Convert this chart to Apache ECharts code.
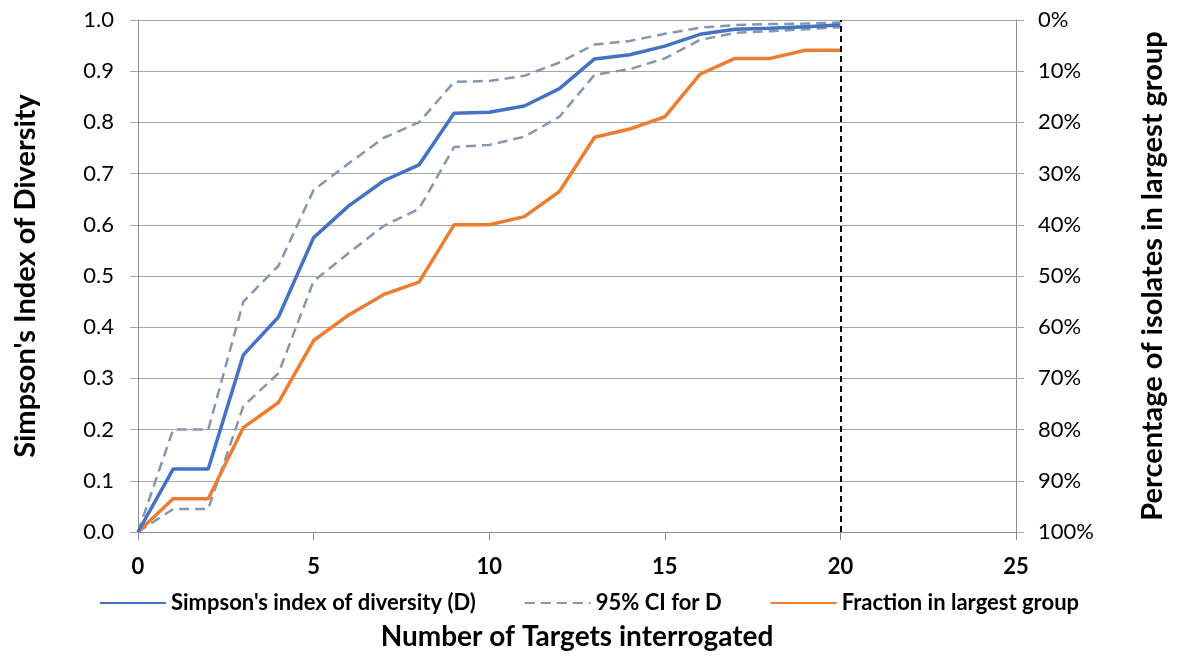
<!DOCTYPE html>
<html>
<head>
<meta charset="utf-8">
<script src="https://cdn.jsdelivr.net/npm/echarts@6/dist/echarts.min.js"></script>
<style>
  html, body { margin: 0; padding: 0; background: #fff; }
  #chart { width: 1178px; height: 657px; }
</style>
</head>
<body>
<div id="chart"></div>
<script>
// number of targets interrogated
const targets = [0, 1, 2, 3, 4, 5, 6, 7, 8, 9, 10, 11, 12, 13, 14, 15, 16, 17, 18, 19, 20]
// Simpson's index of diversity (D)
const simpsonD = [0, 0.123, 0.123, 0.346, 0.42, 0.575, 0.637, 0.686, 0.717, 0.818, 0.82, 0.832, 0.866, 0.924, 0.932, 0.949, 0.972, 0.982, 0.984, 0.987, 0.99]
// 95% CI for D
const ciUpper = [0, 0.2, 0.2, 0.45, 0.52, 0.668, 0.72, 0.77, 0.80, 0.879, 0.881, 0.891, 0.917, 0.952, 0.959, 0.973, 0.985, 0.99, 0.992, 0.993, 0.995]
const ciLower = [0, 0.045, 0.045, 0.246, 0.31, 0.49, 0.545, 0.598, 0.631, 0.752, 0.756, 0.772, 0.811, 0.893, 0.904, 0.925, 0.961, 0.975, 0.978, 0.982, 0.986]
// percentage of isolates in largest group (right axis, inverted)
const largestGroupPct = [100, 93.5, 93.5, 79.6, 74.7, 62.6, 57.6, 53.6, 51.2, 40, 40, 38.4, 33.5, 22.9, 21.3, 18.9, 10.6, 7.5, 7.5, 5.9, 5.9]
// cut-off line
const cutoff = 20

const font = 'Lato, "Noto Sans", sans-serif'
const pair = (ys) => targets.map((x, i) => [x, ys[i]])
const axisGrey = '#8c8c8c'

const chart = echarts.init(document.getElementById('chart'))
const option = {
  animation: false,
  textStyle: { fontFamily: font },
  grid: { left: 138, right: 162, top: 20, bottom: 125 },
  legend: {
    data: ["Simpson's index of diversity (D)", '95% CI for D', 'Fraction in largest group'],
    left: 'center',
    top: 587,
    itemWidth: 66,
    itemHeight: 14,
    itemGap: 48,
    // line only, no symbol in the legend key
    itemStyle: { opacity: 0 },
    textStyle: { fontFamily: font, fontSize: 22, fontWeight: 'bold', color: '#000' }
  },
  xAxis: {
    type: 'value',
    min: 0,
    max: 25,
    interval: 5,
    name: 'Number of Targets interrogated',
    nameLocation: 'middle',
    nameGap: 91,
    nameTextStyle: { fontFamily: font, fontSize: 28, fontWeight: 'bold', color: '#000' },
    axisLine: { lineStyle: { color: axisGrey, width: 1 } },
    axisTick: { show: true, length: 8, lineStyle: { color: axisGrey } },
    axisLabel: { fontFamily: font, fontSize: 22, fontWeight: 'bold', color: '#000', margin: 24 },
    splitLine: { show: false }
  },
  yAxis: [
    {
      type: 'value',
      min: 0,
      max: 1,
      interval: 0.1,
      name: "Simpson's Index of Diversity",
      nameLocation: 'middle',
      nameGap: 98,
      nameTextStyle: { fontFamily: font, fontSize: 29, fontWeight: 'bold', color: '#000' },
      axisLine: { show: true, lineStyle: { color: axisGrey } },
      axisTick: { show: true, length: 8, lineStyle: { color: '#a6a6a6' } },
      axisLabel: { fontFamily: font, fontSize: 22, color: '#000', margin: 24, formatter: (v) => v.toFixed(1) },
      splitLine: { lineStyle: { color: '#a6a6a6', width: 1 } }
    },
    {
      type: 'value',
      min: 0,
      max: 100,
      interval: 10,
      inverse: true,
      position: 'right',
      name: 'Percentage of isolates in largest group',
      nameLocation: 'middle',
      nameGap: 122,
      nameTextStyle: { fontFamily: font, fontSize: 29, fontWeight: 'bold', color: '#000' },
      axisLine: { show: true, lineStyle: { color: axisGrey } },
      axisTick: { show: true, length: 8, lineStyle: { color: '#a6a6a6' } },
      axisLabel: { fontFamily: font, fontSize: 22, color: '#000', margin: 22, formatter: '{value}%' },
      splitLine: { show: false }
    }
  ],
  series: [
    {
      name: '95% CI for D',
      type: 'line',
      data: pair(ciUpper),
      symbol: 'none',
      color: '#8497b0',
      lineStyle: { color: '#8497b0', width: 2.5, type: [10, 6] },
      z: 2
    },
    {
      name: '95% CI for D',
      type: 'line',
      data: pair(ciLower),
      symbol: 'none',
      color: '#8497b0',
      lineStyle: { color: '#8497b0', width: 2.5, type: [10, 6] },
      z: 2
    },
    {
      name: 'Fraction in largest group',
      type: 'line',
      yAxisIndex: 1,
      data: pair(largestGroupPct),
      symbol: 'none',
      color: '#ed7d31',
      lineStyle: { color: '#ed7d31', width: 3.5 },
      z: 3
    },
    {
      name: "Simpson's index of diversity (D)",
      type: 'line',
      data: pair(simpsonD),
      symbol: 'none',
      color: '#4472c4',
      lineStyle: { color: '#4472c4', width: 3.5 },
      z: 4,
      markLine: {
        silent: true,
        symbol: 'none',
        label: { show: false },
        lineStyle: { color: '#000', type: [6, 4], width: 2 },
        data: [{ xAxis: cutoff }]
      }
    }
  ]
}
chart.setOption(option)
window.addEventListener('resize', () => chart.resize())
</script>
</body>
</html>
